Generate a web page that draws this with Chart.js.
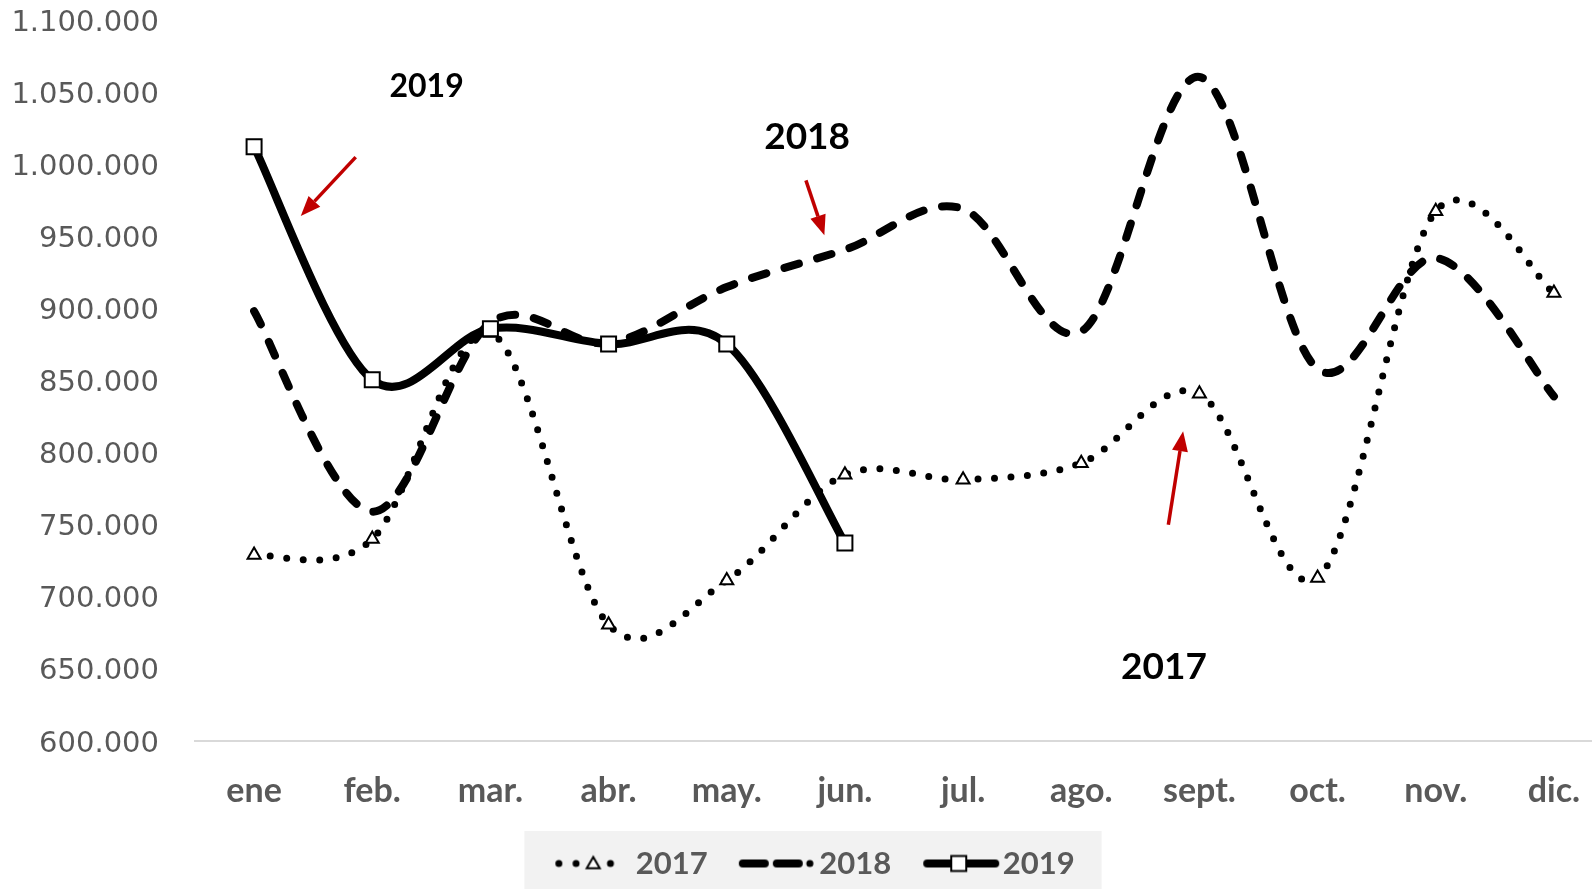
<!DOCTYPE html>
<html>
<head>
<meta charset="utf-8">
<script src="https://cdn.jsdelivr.net/npm/chart.js@4"></script>
<style>
  html, body { margin: 0; padding: 0; background: #fff; overflow: hidden; }
  #wrap { width: 1616px; height: 889px; }
</style>
</head>
<body>
<div id="wrap"><canvas id="chart-1" width="1616" height="889"></canvas></div>
<script>
// ====== datos ======
const meses = ["ene", "feb.", "mar.", "abr.", "may.", "jun.", "jul.", "ago.", "sept.", "oct.", "nov.", "dic."];
const datos2017 = [729000, 740000, 883000, 680600, 711300, 784600, 781200, 792700, 840800, 713000, 967300, 910700];
const datos2018 = [898000, 759000, 890000, 876000, 914800, 940700, 969000, 884000, 1060500, 858000, 935000, 839000];
const datos2019 = [1012100, 850500, 885900, 875300, 875300, 737300];
const ejeMin = 600000;
const ejeMax = 1100000;
const ejePaso = 50000;

// notas y flechas: x = indice del mes, y = valor del eje
const notas = [
  { texto: "2019", x: 1.46, y: 1053500, size: 32 },
  { texto: "2018", x: 4.68, y: 1019000, size: 37 },
  { texto: "2017", x: 7.70, y: 651400, size: 37 },
];
const flechas = [
  { x0: 0.86, y0: 1004900, x1: 0.395, y1: 964100 },
  { x0: 4.67, y0: 988800, x1: 4.826, y1: 950700 },
  { x0: 7.737, y0: 750000, x1: 7.862, y1: 814800 },
];

function puntos(v) {
  return String(v).replace(/\B(?=(\d{3})+(?!\d))/g, ".");
}

function triangulo(g, x, y, r) {
  g.beginPath();
  for (let k = 0; k < 3; k++) {
    const a = k * 2 * Math.PI / 3;
    const px = x + Math.sin(a) * r, py = y - Math.cos(a) * r;
    if (k === 0) g.moveTo(px, py); else g.lineTo(px, py);
  }
  g.closePath();
  g.fillStyle = "#fff"; g.fill();
  g.lineWidth = 2; g.strokeStyle = "#000"; g.stroke();
}

// muestras de la leyenda (linea + marcador)
function muestra(anio) {
  const c = document.createElement("canvas");
  c.width = 110; c.height = 26;
  const g = c.getContext("2d");
  const cy = 13;
  g.strokeStyle = "#000";
  g.lineCap = "round";
  if (anio === "2017") {
    g.lineWidth = 7;
    g.setLineDash([0, 17.2]);
    g.beginPath(); g.moveTo(34.5, cy); g.lineTo(87, cy); g.stroke();
    g.setLineDash([]);
    triangulo(g, 68.9, cy + 1, 7.5);
  } else if (anio === "2018") {
    g.lineWidth = 8;
    g.beginPath();
    g.moveTo(35, cy); g.lineTo(57, cy);
    g.moveTo(69, cy); g.lineTo(91, cy);
    g.stroke();
    g.lineWidth = 7;
    g.beginPath(); g.moveTo(102, cy); g.lineTo(102.1, cy); g.stroke();
  } else {
    g.lineWidth = 8;
    g.beginPath(); g.moveTo(36, cy); g.lineTo(104, cy); g.stroke();
    g.fillStyle = "#fff"; g.lineWidth = 2;
    g.fillRect(60, cy - 7.5, 15, 15); g.strokeRect(60, cy - 7.5, 15, 15);
  }
  return c;
}

// curvas suavizadas tipo Excel (Catmull-Rom)
const suavizado = {
  id: "suavizado",
  beforeDatasetDraw(chart, args) {
    const meta = args.meta;
    meta.dataset.updateControlPoints(chart.chartArea, meta.iScale.axis);
    const p = meta.data;
    for (let i = 0; i < p.length; i++) {
      const prev = p[Math.max(i - 1, 0)];
      const next = p[Math.min(i + 1, p.length - 1)];
      const tx = (next.x - prev.x) / 6;
      const ty = (next.y - prev.y) / 6;
      p[i].cp1x = p[i].x - tx; p[i].cp1y = p[i].y - ty;
      p[i].cp2x = p[i].x + tx; p[i].cp2y = p[i].y + ty;
    }
    meta.dataset._path = undefined;
  }
};

// fondo gris de la leyenda + bajar un poco las etiquetas del eje y
const fondoLeyenda = {
  id: "fondoLeyenda",
  beforeDraw(chart) {
    chart.scales.y.getLabelItems(chart.chartArea).forEach((it) => {
      if (!it._movido) { it.textOffset += 3; it._movido = true; }
    });
    const lg = chart.legend;
    const cajas = lg.legendHitBoxes;
    if (!cajas || !cajas.length) return;
    const ult = cajas[cajas.length - 1];
    const izq = cajas[0].left - 14;
    const der = ult.left + ult.width + 27;
    const ctx = chart.ctx;
    ctx.save();
    ctx.fillStyle = "#f2f2f2";
    ctx.fillRect(izq, lg.top - 3, der - izq, chart.height - lg.top + 3);
    ctx.restore();
  }
};

const notasPlugin = {
  id: "notas",
  afterDraw(chart) {
    const ctx = chart.ctx;
    const sx = chart.scales.x, sy = chart.scales.y;
    ctx.save();
    flechas.forEach((f) => {
      const px0 = sx.getPixelForValue(f.x0), py0 = sy.getPixelForValue(f.y0);
      const px1 = sx.getPixelForValue(f.x1), py1 = sy.getPixelForValue(f.y1);
      const ang = Math.atan2(py1 - py0, px1 - px0);
      const largo = 20, ancho = 8;
      const bx = px1 - Math.cos(ang) * largo, by = py1 - Math.sin(ang) * largo;
      ctx.strokeStyle = "#c00000";
      ctx.lineWidth = 3.5;
      ctx.beginPath(); ctx.moveTo(px0, py0); ctx.lineTo(bx, by); ctx.stroke();
      ctx.fillStyle = "#c00000";
      ctx.beginPath();
      ctx.moveTo(px1, py1);
      ctx.lineTo(bx + Math.sin(ang) * ancho, by - Math.cos(ang) * ancho);
      ctx.lineTo(bx - Math.sin(ang) * ancho, by + Math.cos(ang) * ancho);
      ctx.closePath(); ctx.fill();
    });
    ctx.fillStyle = "#000";
    ctx.textAlign = "center";
    ctx.textBaseline = "middle";
    notas.forEach((n) => {
      ctx.font = "bold " + n.size + "px Lato, sans-serif";
      ctx.fillText(n.texto, sx.getPixelForValue(n.x), sy.getPixelForValue(n.y));
    });
    ctx.restore();
  }
};

const ctx1 = document.getElementById("chart-1").getContext("2d");
const muestras = [muestra("2017"), muestra("2018"), muestra("2019")];

const myChart = new Chart(ctx1, {
  type: "line",
  data: {
    labels: meses,
    datasets: [
      {
        label: "2017",
        data: datos2017,
        borderColor: "#000",
        borderWidth: 7,
        borderDash: [0, 16.5],
        borderCapStyle: "round",
        pointStyle: "triangle",
        pointRadius: 7.5,
        pointBackgroundColor: "#fff",
        pointBorderColor: "#000",
        pointBorderWidth: 2,
        tension: 0.4,
        order: 1,
      },
      {
        label: "2018",
        data: datos2018,
        borderColor: "#000",
        borderWidth: 8,
        borderDash: [15, 19],
        borderCapStyle: "round",
        pointRadius: 0,
        tension: 0.4,
        order: 2,
      },
      {
        label: "2019",
        data: datos2019,
        borderColor: "#000",
        borderWidth: 8,
        pointStyle: "rect",
        pointRadius: 10.6,
        pointBackgroundColor: "#fff",
        pointBorderColor: "#000",
        pointBorderWidth: 2,
        tension: 0.4,
        order: 0,
      },
    ],
  },
  options: {
    responsive: false,
    animation: false,
    events: [],
    layout: { autoPadding: false, padding: { top: 20, right: 3, left: 0, bottom: 0 } },
    scales: {
      x: {
        offset: true,
        grid: { display: false, drawTicks: false },
        border: { display: true, color: "#d9d9d9", width: 2 },
        ticks: {
          color: "#595959",
          font: { family: "Lato", size: 34, weight: "bold" },
          padding: 30,
          maxRotation: 0,
          autoSkip: false,
        },
        afterFit: (scale) => {
          scale.height = 93;
          scale.paddingLeft = 0;
          scale.paddingRight = 0;
        },
      },
      y: {
        min: ejeMin,
        max: ejeMax,
        grid: { display: false, drawTicks: false },
        border: { display: false },
        ticks: {
          stepSize: ejePaso,
          autoSkip: false,
          padding: 36,
          color: "#595959",
          font: { family: "DejaVu Sans", size: 29 },
          callback: (v) => puntos(v),
        },
        afterFit: (scale) => {
          scale.width = 195;
          scale.paddingTop = 0;
          scale.paddingBottom = 0;
        },
      },
    },
    plugins: {
      tooltip: { enabled: false },
      legend: {
        position: "bottom",
        labels: {
          usePointStyle: true,
          pointStyleWidth: 82,
          padding: 14,
          color: "#595959",
          font: { family: "Lato", size: 31, weight: "bold" },
          generateLabels: (chart) => chart.data.datasets.map((ds, i) => ({
            text: ds.label,
            pointStyle: muestras[i],
            fontColor: "#595959",
            fillStyle: "transparent",
            strokeStyle: "transparent",
            lineWidth: 0,
            hidden: false,
            datasetIndex: i,
          })),
        },
      },
    },
  },
  plugins: [suavizado, fondoLeyenda, notasPlugin],
});
</script>
</body>
</html>
